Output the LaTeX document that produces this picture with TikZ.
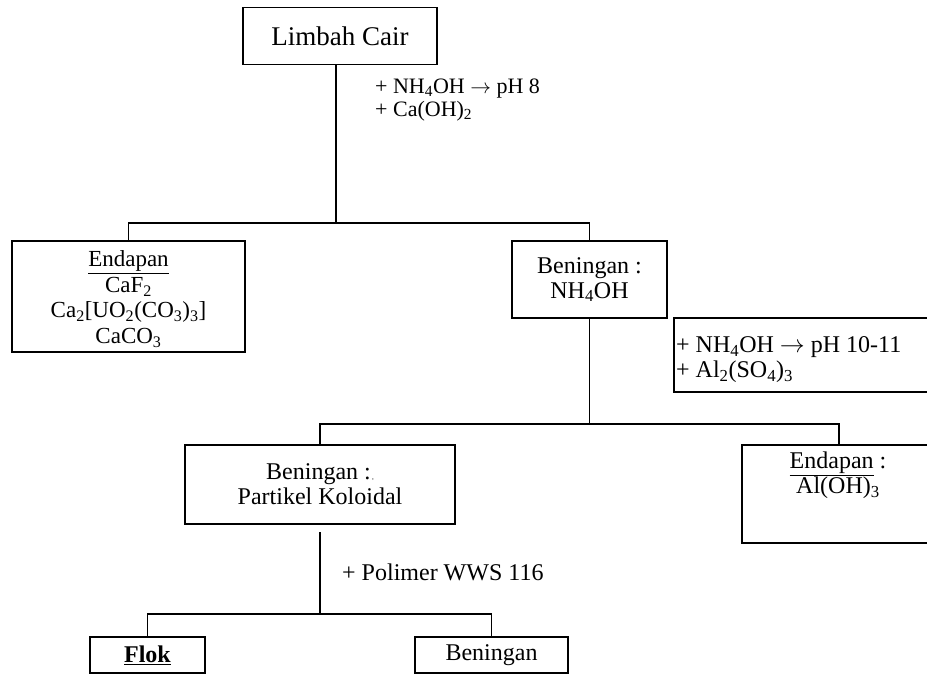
\documentclass[tikz,border=0pt]{standalone}
\usepackage{fontspec}
\setmainfont{Liberation Serif}
\begin{document}
\begin{tikzpicture}[x=1pt,y=-1pt]
\tikzset{
  box/.style={draw, line width=1.5pt, inner sep=0pt, align=center, font=\fontsize{24}{25}\selectfont},
  txt/.style={inner sep=0pt, align=left, font=\fontsize{24}{25}\selectfont},
  ln/.style={line width=1.8pt}
}
\useasboundingbox (0,0) rectangle (927,675);
\fill[white] (0,0) rectangle (927,675);
% boxes
\node[box, minimum width=194pt, minimum height=57pt, font=\fontsize{27}{28}\selectfont] (limbah) at (340,36) {Limbah Cair};
\node[box, minimum width=233pt, minimum height=111pt] (endA) at (128.5,296.5) {};
\node[txt, align=center, font=\fontsize{23}{25.5}\selectfont] (endAt) at (128.5,299) {\underline{Endapan}\\CaF\textsubscript{2}\\Ca\textsubscript{2}[UO\textsubscript{2}(CO\textsubscript{3})\textsubscript{3}]\\CaCO\textsubscript{3}};
\node[box, minimum width=155pt, minimum height=77pt] (benA) at (589.5,279.5) {Beningan :\\NH\textsubscript{4}OH};
\node[box, minimum width=270pt, minimum height=79pt] (kolo) at (320,484.5) {Beningan :{\scriptsize\,,}\\Partikel Koloidal};
\node[box, minimum width=194pt, minimum height=98pt] (alOH) at (839,494) {};
\node[txt, align=center] (alOHt) at (838,475) {\underline{Endapan} :\\Al(OH)\textsubscript{3}};
\node[box, minimum width=115pt, minimum height=36pt] (flok) at (147.5,655) {\textbf{\underline{Flok}}};
\node[box, minimum width=153pt, minimum height=36pt] (benB) at (491.5,655) {Beningan};
% labels
\node[txt, anchor=west, font=\fontsize{22}{23}\selectfont] (lab1) at (375,100) {+ NH\textsubscript{4}OH $\rightarrow$ pH 8\\+ Ca(OH)\textsubscript{2}};
\node[box, minimum width=266pt, minimum height=74pt] (lab2) at (807,355) {};
\node[txt, anchor=west, font=\fontsize{24}{25}\selectfont] (lab2t) at (676,360) {+ NH\textsubscript{4}OH $\rightarrow$ pH 10-11\\+ Al\textsubscript{2}(SO\textsubscript{4})\textsubscript{3}};
\node[txt, anchor=west] (lab3) at (342,572) {+ Polimer WWS 116};
% connectors
\coordinate (j1) at (336,223);
\coordinate (j2) at (589.5,424);
\coordinate (k1) at (320,532);
\coordinate (j3) at (320,614);
\draw[ln] (limbah.south -| j1) -- (j1);
\draw[ln] (endA.north) |- (j1) -| (benA.north);
\draw[ln] (benA.south) -- (j2);
\draw[ln] (kolo.north) |- (j2) -| (alOH.north);
\draw[ln] (k1) -- (j3);
\draw[ln] (flok.north) |- (j3) -| (benB.north);
\end{tikzpicture}
\end{document}
